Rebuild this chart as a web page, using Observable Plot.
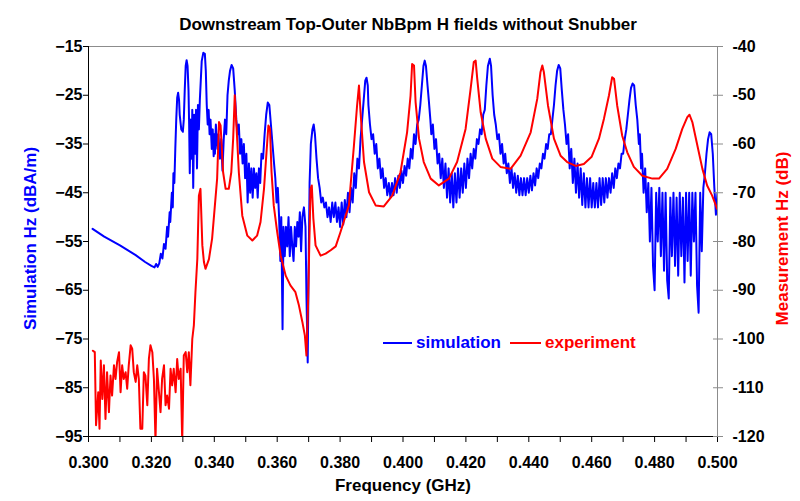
<!DOCTYPE html>
<html><head><meta charset="utf-8">
<script src="https://cdn.jsdelivr.net/npm/d3@7"></script>
<script src="https://cdn.jsdelivr.net/npm/@observablehq/plot@0.6"></script>
<style>
body{margin:0;background:#fff;}
#wrap{position:relative;width:800px;height:501px;font-family:"Liberation Sans",Arial,sans-serif;}
.leg{position:absolute;top:333px;height:20px;display:flex;align-items:center;font-weight:bold;font-size:17px;white-space:nowrap;}
.leg .sw{display:inline-block;height:2px;margin-right:4px;}
</style></head><body><div id="wrap"></div>
<script>
const chartTitle = "Downstream Top-Outer NbBpm H fields without Snubber";
const xTitle = "Frequency (GHz)";
const leftTitle = "Simulation Hz (dBA/m)";
const rightTitle = "Measurement Hz (dB)";
const seriesNames = ["simulation", "experiment"];

const xDomain = [0.300, 0.500];
const leftDomain = [-95, -15];
const rightDomain = [-120, -40];
const xTickLabels = [0.300,0.320,0.340,0.360,0.380,0.400,0.420,0.440,0.460,0.480,0.500];
const xMinorTicks = [0.300,0.310,0.320,0.330,0.340,0.350,0.360,0.370,0.380,0.390,0.400,0.410,0.420,0.430,0.440,0.450,0.460,0.470,0.480,0.490,0.500];
const leftTicks = [-95,-85,-75,-65,-55,-45,-35,-25,-15];
const rightTicks = [-120,-110,-100,-90,-80,-70,-60,-50,-40];

// simulation (left axis, dBA/m)
const simFreq = [
0.3013,0.305,0.310,0.315,0.318,0.320,0.321,0.3215,0.322,0.3225,
0.323,0.3235,0.324,0.3245,0.325,0.3253,0.3258,0.326,0.3265,0.3268,
0.327,0.3273,0.3276,0.3279,0.3282,0.3285,0.3288,0.329,0.3295,0.330,
0.3303,0.3306,0.3309,0.3312,0.3315,0.3318,0.332,0.3322,0.3325,0.3328,
0.333,0.3333,0.3336,0.3339,0.3342,0.3345,0.3348,0.3351,0.3354,0.3357,
0.336,0.3365,0.337,0.3373,0.3376,0.3379,0.3382,0.3385,0.3388,0.3392,
0.3395,0.3398,0.340,0.3402,0.3405,0.341,0.3413,0.3418,0.3422,0.3426,
0.343,0.3434,0.3438,0.3442,0.3446,0.345,0.3455,0.346,0.3465,0.347,
0.3474,0.3478,0.3482,0.3486,0.349,0.3494,0.3498,0.3502,0.3506,0.351,
0.3514,0.3518,0.3522,0.3526,0.353,0.3534,0.3538,0.3542,0.3546,0.355,
0.3555,0.356,0.3565,0.357,0.3575,0.358,0.3585,0.359,0.3594,0.3598,
0.3602,0.3606,0.361,0.3613,0.3617,0.362,0.3624,0.3628,0.3632,0.3636,
0.364,0.3644,0.3648,0.3652,0.3656,0.366,0.3664,0.3668,0.3672,0.3676,
0.368,0.3685,0.369,0.3693,0.3697,0.3700,0.3703,0.3707,0.3712,0.3716,
0.372,0.3725,0.373,0.3735,0.374,0.3745,0.375,0.3755,0.376,0.3765,
0.377,0.3775,0.378,0.3785,0.379,0.3795,0.380,0.3805,0.381,0.3815,
0.382,0.3825,0.383,0.3835,0.384,0.3845,0.385,0.3855,0.386,0.3865,
0.387,0.3875,0.388,0.3884,0.3888,0.389,0.3895,0.390,0.3905,0.391,
0.3915,0.392,0.3925,0.393,0.3935,0.394,0.3945,0.395,0.3955,0.396,
0.3965,0.397,0.3975,0.398,0.3985,0.399,0.3995,0.400,0.4005,0.401,
0.4015,0.402,0.4025,0.403,0.4035,0.404,0.4045,0.405,0.4055,0.406,
0.4065,0.4069,0.4073,0.4078,0.4082,0.4087,0.409,0.4095,0.410,0.4105,
0.411,0.4115,0.412,0.4125,0.413,0.4135,0.414,0.4145,0.415,0.4155,
0.416,0.4165,0.417,0.4175,0.418,0.4185,0.419,0.4195,0.420,0.4205,
0.421,0.4215,0.422,0.4225,0.423,0.4235,0.424,0.4245,0.425,0.4255,
0.426,0.4265,0.427,0.4276,0.428,0.4285,0.429,0.4295,0.430,0.4305,
0.431,0.4315,0.432,0.4325,0.433,0.4335,0.434,0.4345,0.435,0.4355,
0.436,0.4365,0.437,0.4375,0.438,0.4385,0.439,0.4395,0.440,0.4405,
0.441,0.4415,0.442,0.4425,0.443,0.4435,0.444,0.4445,0.445,0.4455,
0.446,0.4465,0.447,0.4475,0.448,0.4485,0.449,0.4495,0.450,0.4505,
0.451,0.4515,0.452,0.4525,0.453,0.4535,0.454,0.4545,0.455,0.4555,
0.456,0.4565,0.457,0.4575,0.458,0.4585,0.459,0.4595,0.460,0.4605,
0.461,0.4615,0.462,0.4625,0.463,0.4635,0.464,0.4645,0.465,0.4655,
0.466,0.4665,0.467,0.4675,0.468,0.4685,0.469,0.4695,0.470,0.4705,
0.471,0.4715,0.472,0.4725,0.473,0.4735,0.474,0.4745,0.475,0.4753,
0.4757,0.476,0.4765,0.477,0.4775,0.478,0.4785,0.479,0.4795,0.480,
0.4805,0.481,0.4815,0.482,0.4825,0.483,0.4835,0.484,0.4845,0.485,
0.4855,0.486,0.4865,0.487,0.4875,0.488,0.4885,0.489,0.4895,0.490,
0.4905,0.491,0.4915,0.492,0.4925,0.493,0.4935,0.494,0.4945,0.495,
0.4955,0.496,0.4965,0.497,0.4975,0.498,0.4985,0.499,0.4995,0.500];
const simHz = [
-52.4,-54,-55.8,-57.8,-59.2,-60,-60.3,-59.6,-60.2,-59.5,
-57.5,-58.5,-55.5,-56.5,-52,-54,-49,-51,-45,-48,
-41,-43,-36,-30,-25.5,-24.5,-26,-29,-32,-32.5,
-30,-24,-19,-17.8,-19,-24,-31,-41,-30,-38,
-28,-44,-29,-37,-28,-40,-27,-32,-26,-22,
-18,-16.3,-16.5,-20,-27,-31,-28,-33,-30,-36,
-32,-37.5,-33,-37,-31,-36,-33,-38,-34,-40.5,
-34,-30,-33,-25,-22,-20,-18.8,-19.5,-24,-30,
-33,-31,-37,-34,-39,-35,-42,-37,-47,-39,
-45,-40,-46,-40,-44,-41,-46,-40,-43,-37,
-38,-33,-29,-26.5,-27,-31,-35,-39,-42,-47,
-44,-50,-59,-50,-73,-52,-58,-52,-56,-50,
-58,-52,-56,-59,-52,-56,-51,-54,-49,-57,
-50,-48,-52,-66,-79.8,-60,-43,-35,-32,-31,
-33,-38,-42,-44,-47,-46,-48,-47,-50,-48,
-51,-47,-50,-47,-51,-48,-52,-47,-51.5,-46.5,
-50,-45,-49,-44,-47,-41,-44,-38,-40,-34,
-30,-26,-22,-21.4,-23,-27,-31,-34,-33,-37,
-35,-40,-38,-42,-40,-44,-42,-45.5,-43,-46,
-43,-45.5,-42,-45,-41.5,-44,-40.5,-43,-39.5,-41.5,
-38,-40,-36,-38,-33,-35,-31,-30,-27,-23,
-19,-17.9,-19,-23,-26,-30,-33,-31,-36,-34,
-39,-37,-42,-38,-44,-39,-46,-40,-47,-41,
-48,-41,-47,-40,-46,-40,-45,-39,-44,-38,
-42,-37,-40,-36,-38,-34,-35,-32,-33,-29,
-28,-23,-19,-17.5,-19,-25,-29,-31,-34,-33,
-37,-35,-39,-37,-41,-39,-43,-40,-44,-41,
-45,-41.5,-45.5,-42,-45.5,-42,-45.5,-42,-45,-41.5,
-44.5,-41,-43.5,-40,-42,-39,-40,-37,-38,-35,
-36,-33,-33,-30,-27,-23,-20,-18.8,-19.5,-24,
-28,-31,-35,-33,-40,-36,-43,-38,-45,-39,
-46,-40,-47.5,-41,-48,-42,-48,-42,-48,-43,
-48,-43,-48,-42,-47.5,-42,-47,-42,-46,-42,
-45,-41,-44,-40,-42,-39,-40,-37,-37,-34,
-32,-29,-26,-23.5,-22.6,-23,-27,-30,-35,-33,
-40,-37,-45,-40,-49,-43,-55,-44,-60,-65,
-45,-55,-44,-58,-45,-61,-45,-63,-66.7,-46,
-58,-45,-60,-46,-62,-45,-58,-46,-63.4,-45,
-59,-45,-62,-45,-55,-45,-64,-69.6,-45,-57,
-44,-41,-37,-34,-32.6,-33,-37,-44,-49.5,-45];

// experiment (right axis, dB)
const expFreq = [
0.3014,0.3020,0.3024,0.3031,0.3035,0.3039,0.3044,0.3049,0.3054,0.3059,
0.3065,0.3070,0.3075,0.3081,0.3086,0.3091,0.3097,0.3102,0.3107,0.3112,
0.3118,0.3123,0.3128,0.3134,0.3139,0.3144,0.3150,0.3155,0.3160,0.3165,
0.3171,0.3176,0.3181,0.3187,0.3192,0.3197,0.3203,0.3208,0.3213,0.3218,
0.3224,0.3229,0.3234,0.3240,0.3245,0.3250,0.3256,0.3261,0.3266,0.3271,
0.3277,0.3282,0.3287,0.3293,0.3298,0.3303,0.3309,0.3314,0.3319,0.3324,
0.3330,0.3335,0.3340,0.3346,0.3351,0.3356,0.3362,0.3367,0.3372,0.3383,
0.3393,0.3409,0.3415,0.3420,0.3428,0.3436,0.3446,0.3454,0.3460,0.3465,
0.3471,0.3478,0.3489,0.3505,0.3521,0.3536,0.3547,0.3558,0.3566,0.3572,
0.3577,0.3582,0.3589,0.3600,0.3611,0.3627,0.3642,0.3658,0.3669,0.3680,
0.3688,0.3693,0.3698,0.3702,0.3706,0.3710,0.3715,0.3722,0.3738,0.3754,
0.3770,0.3786,0.3801,0.3828,0.3844,0.3854,0.3860,0.3865,0.3876,0.3892,
0.3913,0.3939,0.3966,0.3992,0.4013,0.4024,0.4029,0.4035,0.4040,0.4051,
0.4066,0.4088,0.4114,0.4146,0.4172,0.4199,0.4215,0.4225,0.4231,0.4236,
0.4247,0.4263,0.4284,0.4310,0.4342,0.4374,0.4406,0.4427,0.4437,0.4443,
0.4448,0.4461,0.4480,0.4501,0.4522,0.4549,0.4575,0.4600,0.4623,0.4639,
0.4655,0.4665,0.4671,0.4681,0.4697,0.4713,0.4734,0.4761,0.4793,0.4814,
0.4840,0.4867,0.4888,0.4904,0.4911,0.4920,0.4936,0.4952,0.4967,0.4983,
0.4999];
const expHz = [
-102.4,-102.7,-117.7,-110.9,-118.4,-104.4,-112.3,-105.4,-116.4,-106.8,
-115.0,-107.5,-111.6,-105.4,-108.2,-104.7,-102.7,-110.9,-105.4,-108.2,
-106.8,-110.2,-105.4,-101.3,-102.0,-106.8,-108.8,-105.4,-108.2,-118.4,
-118.4,-106.8,-107.5,-113.6,-104.1,-101.3,-102.7,-108.2,-121,-106.1,
-110.9,-115,-108.2,-105.4,-113.6,-111.6,-114.3,-106.1,-109.5,-106.1,
-110.9,-104.1,-108.2,-106.1,-121,-103.4,-102.7,-106.8,-102.7,-109.5,
-100,-97.2,-90.4,-83.6,-70.6,-69.2,-80.8,-84.2,-85.6,-83.6,
-79.4,-67.1,-55.5,-56.2,-65.8,-69.2,-69.2,-65.8,-58.9,-50.0,
-56.9,-65.8,-74.7,-78.8,-79.8,-78.8,-76.0,-69.2,-61.7,-56.2,
-56.9,-65.8,-72.6,-78.1,-82.9,-87.0,-89.0,-90.4,-93.1,-96.5,
-99.3,-103.4,-93.1,-80.8,-69.2,-68.5,-75.3,-80.8,-82.9,-82.5,
-81.8,-81,-78.1,-72.6,-60.3,-52.1,-48.0,-53.5,-63.7,-69.9,
-72.6,-72.8,-70.6,-65.8,-57.6,-50.1,-43.6,-43.9,-51.4,-58.9,
-63.7,-67.1,-68.5,-67.1,-63.7,-56.9,-48.7,-43.2,-42.9,-46.6,
-53.5,-58.9,-63.0,-64.7,-65.1,-62.4,-57.6,-50.7,-45.3,-43.9,
-45.3,-52.1,-58.9,-62.4,-63.7,-64.5,-64.1,-62.6,-58.9,-54.8,
-50.0,-46.3,-46.6,-52.1,-58.3,-61.7,-64.7,-66.5,-67.1,-67.1,
-65.1,-61.0,-56.9,-54.5,-54.0,-55.5,-60.3,-65.1,-68.5,-70.6,
-73.3];

const offset = leftDomain[1] - rightDomain[1]; // right value + offset = left position
const sim = simFreq.map((f, i) => ({f, v: simHz[i]}));
const exp = expFreq.map((f, i) => ({f, v: expHz[i]}));

const FONT = '"Liberation Sans", Arial, sans-serif';
const plot = Plot.plot({
  width: 800, height: 501,
  marginTop: 46, marginBottom: 65, marginLeft: 88, marginRight: 83,
  style: {fontFamily: FONT, fontSize: "16px", fontWeight: "bold", background: "#fff", color: "#000", overflow: "visible"},
  x: {domain: xDomain, axis: null},
  y: {domain: leftDomain, axis: null},
  marks: [
    Plot.frame({stroke: "#8c8c8c"}),
    Plot.line(sim, {x: "f", y: "v", stroke: "#0000ff", strokeWidth: 2, clip: true}),
    Plot.line(exp, {x: "f", y: d => d.v + offset, stroke: "#ff0000", strokeWidth: 2, clip: true}),
    Plot.ruleX([xDomain[0]], {stroke: "#000"}),
    Plot.ruleY([leftDomain[0]], {stroke: "#000"}),
    Plot.axisX({ticks: xMinorTicks, tickSize: 6, tickFormat: () => "", label: null, stroke: "#000"}),
    Plot.axisX({ticks: xTickLabels, tickSize: 0, tickPadding: 20, tickFormat: d3.format(".3f"), label: null}),
    Plot.axisY({anchor: "left", ticks: leftTicks, tickSize: 5, tickPadding: 1, label: null, stroke: "#000"}),
    Plot.axisY({anchor: "right", ticks: rightTicks.map(d => d + offset), tickSize: 10, dx: -5, tickFormat: () => "", label: null, stroke: "#8c8c8c"}),
    Plot.axisY({anchor: "right", ticks: rightTicks.map(d => d + offset), tickSize: 0, tickPadding: 15, tickFormat: d => String(d - offset), label: null}),
    Plot.text([chartTitle], {text: d => d, frameAnchor: "top", dy: -29, dx: 5, fontSize: 17, fontWeight: "bold", fill: "#000"}),
    Plot.text([xTitle], {text: d => d, frameAnchor: "bottom", dy: 54, fontSize: 17, fontWeight: "bold", fill: "#000"}),
    Plot.text([leftTitle], {text: d => d, frameAnchor: "left", textAnchor: "middle", dx: -58, dy: -3, rotate: -90, fontSize: 17, fontWeight: "bold", fill: "#0000ff"}),
    Plot.text([rightTitle], {text: d => d, frameAnchor: "right", textAnchor: "middle", dx: 65, dy: -3, rotate: -90, fontSize: 17, fontWeight: "bold", fill: "#ff0000"})
  ]
});
const wrap = document.getElementById("wrap");
wrap.appendChild(plot);

// legend (inside the plot area)
const legendItems = [
  {name: seriesNames[0], color: "#0000ff", left: 383, sw: 29},
  {name: seriesNames[1], color: "#ff0000", left: 510, sw: 31}
];
for (const it of legendItems) {
  const el = document.createElement("div");
  el.className = "leg";
  el.style.left = it.left + "px";
  el.style.color = it.color;
  el.innerHTML = `<span class="sw" style="width:${it.sw}px;background:${it.color}"></span><span>${it.name}</span>`;
  wrap.appendChild(el);
}
</script></body></html>
